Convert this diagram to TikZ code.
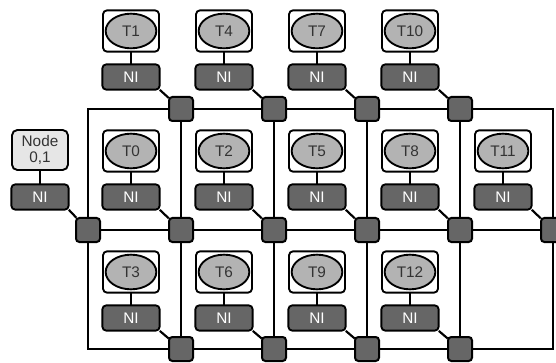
\documentclass[tikz,border=0pt]{standalone}
\usepackage{fontspec}
\setmainfont{Liberation Sans}
\definecolor{RouterGrey}{HTML}{666666}
\definecolor{CoreGrey}{HTML}{B3B3B3}
\definecolor{HostGrey}{HTML}{E6E6E6}
\definecolor{LabelGrey}{HTML}{333333}
\usetikzlibrary{positioning,shapes.geometric,backgrounds}

\begin{document}
\begin{tikzpicture}[x=0.75pt,y=-0.75pt,
font=\fontsize{11.5}{12.5}\selectfont,
router/.style={draw,line width=1.5pt,rounded corners=2.5pt,fill=RouterGrey,minimum size=18pt,inner sep=0pt},
tile/.style={draw,line width=1.4pt,rounded corners=3pt,fill=white,minimum width=42pt,minimum height=31pt,inner sep=0pt},
core/.style={draw,ellipse,line width=1.4pt,fill=CoreGrey,text=LabelGrey,minimum width=38pt,minimum height=26pt,inner sep=0pt},
host/.style={draw,line width=1.4pt,rounded corners=4pt,fill=HostGrey,text=LabelGrey,minimum width=42pt,minimum height=30pt,inner sep=0pt,align=center},
ni/.style={draw,line width=1.4pt,rounded corners=3pt,fill=RouterGrey,text=white,minimum width=43pt,minimum height=19pt,inner sep=0pt},
link/.style={line width=1.6pt,line cap=rect}
]
\useasboundingbox (0,0) rectangle (556,363);

% mesh corners without routers
\coordinate (c-0-0) at (88,109);
\coordinate (c-5-0) at (553,109);
\coordinate (c-0-2) at (88,349);
\coordinate (c-5-2) at (553,349);

% routers
\foreach \c in {1,...,4} \node[router] (r-\c-0) at ({88+93*\c},109) {};
\foreach \c in {0,...,5} \node[router] (r-\c-1) at ({88+93*\c},230) {};
\foreach \c in {1,...,4} \node[router] (r-\c-2) at ({88+93*\c},349) {};

% mesh links
\begin{scope}[on background layer]
\draw[link] (c-0-0) -- (r-1-0) -- (r-2-0) -- (r-3-0) -- (r-4-0) -- (c-5-0);
\draw[link] (r-0-1) -- (r-1-1) -- (r-2-1) -- (r-3-1) -- (r-4-1) -- (r-5-1);
\draw[link] (c-0-2) -- (r-1-2) -- (r-2-2) -- (r-3-2) -- (r-4-2) -- (c-5-2);
\draw[link] (c-0-0) -- (r-0-1) -- (c-0-2);
\draw[link] (c-5-0) -- (r-5-1) -- (c-5-2);
\foreach \c in {1,...,4} \draw[link] (r-\c-0) -- (r-\c-1) -- (r-\c-2);
\end{scope}

% tiles above the mesh
\foreach \c/\t in {1/T1,2/T4,3/T7,4/T10} {
  \node[tile] (t-\c-0) at ({38+93*\c},31) {};
  \node[core] at (t-\c-0) {\t};
  \node[ni] (ni-\c-0) at ({38+93*\c},77) {NI};
  \draw[link] (t-\c-0) -- (ni-\c-0);
  \draw[link] (ni-\c-0.south east) -- (r-\c-0);
}

% middle row
\node[host] (t-0-1) at (40,150) {Node\\0,1};
\node[ni] (ni-0-1) at (40,197) {NI};
\draw[link] (t-0-1) -- (ni-0-1);
\draw[link] (ni-0-1.south east) -- (r-0-1);
\foreach \c/\t in {1/T0,2/T2,3/T5,4/T8,5/T11} {
  \node[tile] (t-\c-1) at ({38+93*\c},151) {};
  \node[core] at (t-\c-1) {\t};
  \node[ni] (ni-\c-1) at ({38+93*\c},197) {NI};
  \draw[link] (t-\c-1) -- (ni-\c-1);
  \draw[link] (ni-\c-1.south east) -- (r-\c-1);
}

% bottom row
\foreach \c/\t in {1/T3,2/T6,3/T9,4/T12} {
  \node[tile] (t-\c-2) at ({38+93*\c},272) {};
  \node[core] at (t-\c-2) {\t};
  \node[ni] (ni-\c-2) at ({38+93*\c},318) {NI};
  \draw[link] (t-\c-2) -- (ni-\c-2);
  \draw[link] (ni-\c-2.south east) -- (r-\c-2);
}
\end{tikzpicture}
\end{document}
